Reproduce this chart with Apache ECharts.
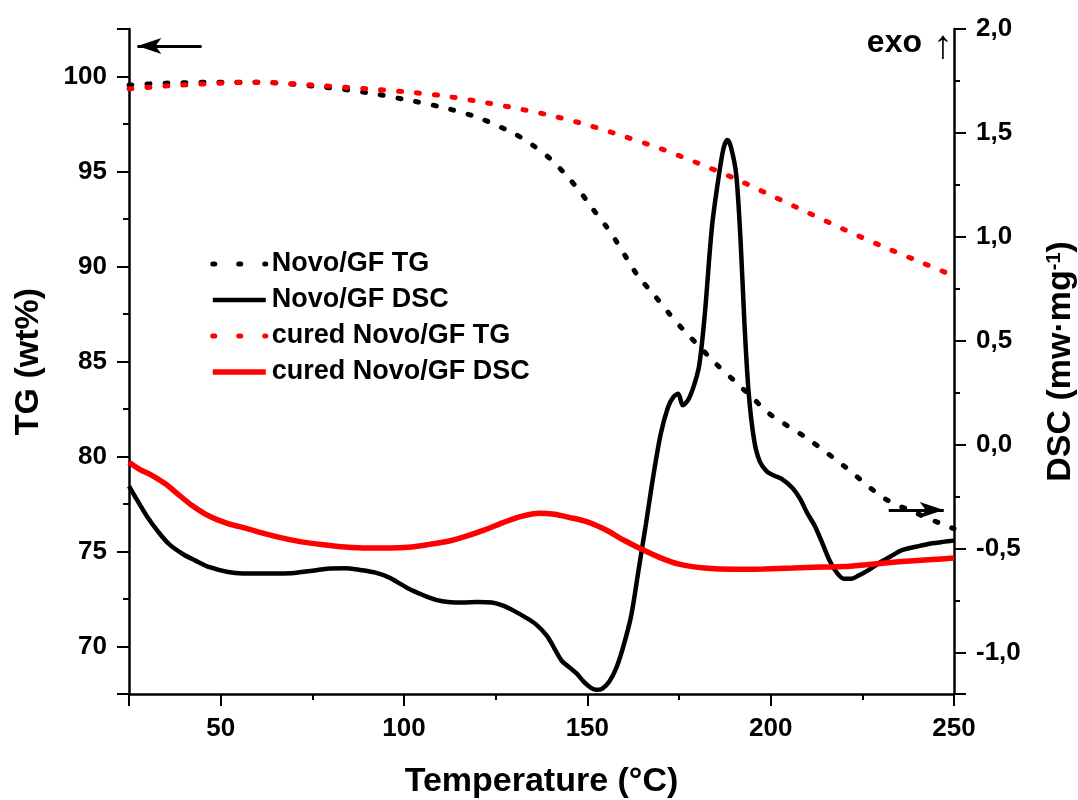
<!DOCTYPE html>
<html>
<head>
<meta charset="utf-8">
<script src="https://cdn.jsdelivr.net/npm/echarts@6/dist/echarts.min.js"></script>
<style>
    html, body { margin: 0; padding: 0; background: #fff; }
    #chart { width: 1078px; height: 800px; }
</style>
</head>
<body>
<div id="chart"></div>
<script>
// TG curves (wt%)
const tempTgNovo = [25, 35, 50, 60, 75, 90, 100, 110, 120, 130, 135, 140, 144, 148, 151, 155, 158, 161, 164, 168, 172, 176, 180, 185, 190, 195, 200, 210, 220, 231, 240, 246, 250];
const tgNovo = [99.55, 99.65, 99.7, 99.7, 99.5, 99.15, 98.8, 98.4, 97.85, 97.0, 96.4, 95.65, 94.85, 93.95, 93.15, 92.15, 91.3, 90.35, 89.45, 88.55, 87.6, 86.7, 85.9, 84.9, 84.0, 83.1, 82.2, 80.95, 79.5, 77.8, 77.0, 76.5, 76.2];

const tempTgCured = [25, 35, 50, 60, 75, 90, 100, 110, 120, 130, 140, 150, 160, 170, 180, 190, 200, 210, 220, 230, 240, 250];
const tgCured = [99.35, 99.5, 99.65, 99.7, 99.55, 99.35, 99.2, 99.0, 98.7, 98.35, 97.95, 97.45, 96.85, 96.2, 95.45, 94.65, 93.75, 92.85, 91.95, 91.1, 90.3, 89.5];

// DSC curves (mW/mg)
const tempDscNovo = [25, 28, 30, 33, 36, 40, 43, 47, 52, 56, 61, 66, 70, 75, 79, 84, 88, 92, 96, 99, 102, 106, 109, 112, 116, 120, 124, 127, 130, 133, 136, 139, 141, 143, 145, 147, 149, 151, 152.5, 154, 156, 158, 160, 162, 164, 166, 168, 170, 172, 173.5, 174.8, 176, 177.5, 179, 180.5, 182, 184, 186, 187.2, 188.2, 189.2, 190.6, 191.8, 192.8, 194, 195.5, 197, 199, 201, 203, 206, 208, 210, 212, 214, 216, 218, 220, 222, 224, 227, 230, 233, 236, 240, 244, 247, 250];
const dscNovo = [-0.2, -0.29, -0.348, -0.42, -0.48, -0.53, -0.557, -0.59, -0.613, -0.62, -0.62, -0.62, -0.618, -0.607, -0.597, -0.595, -0.603, -0.615, -0.64, -0.67, -0.7, -0.73, -0.748, -0.757, -0.76, -0.757, -0.76, -0.775, -0.8, -0.83, -0.865, -0.92, -0.98, -1.04, -1.07, -1.1, -1.14, -1.17, -1.18, -1.175, -1.14, -1.07, -0.96, -0.82, -0.6, -0.38, -0.15, 0.05, 0.18, 0.23, 0.245, 0.19, 0.215, 0.28, 0.38, 0.62, 1.05, 1.31, 1.43, 1.466, 1.43, 1.3, 0.98, 0.6, 0.25, 0.02, -0.08, -0.13, -0.15, -0.165, -0.21, -0.26, -0.33, -0.39, -0.47, -0.555, -0.615, -0.645, -0.645, -0.63, -0.6, -0.565, -0.535, -0.507, -0.49, -0.475, -0.468, -0.462];

const tempDscCured = [25, 28, 31, 35, 38, 42, 47, 52, 57, 62, 67, 72, 78, 84, 90, 96, 102, 107, 112, 117, 122, 127, 132, 137, 141, 145, 150, 155, 160, 165, 170, 175, 182, 190, 198, 206, 214, 220, 226, 232, 238, 244, 250];
const dscCured = [-0.085, -0.12, -0.146, -0.19, -0.233, -0.29, -0.345, -0.38, -0.403, -0.428, -0.45, -0.468, -0.482, -0.493, -0.498, -0.498, -0.493, -0.48, -0.465, -0.44, -0.41, -0.375, -0.345, -0.33, -0.335, -0.35, -0.372, -0.41, -0.46, -0.505, -0.545, -0.575, -0.594, -0.6, -0.598, -0.594, -0.589, -0.587, -0.578, -0.568, -0.56, -0.553, -0.546];

// annotation arrows: [x0, y0, x1, y1] in data units
const tgArrow = [44.8, 101.6, 27.3, 101.6];
const dscArrow = [232.2, -0.315, 247.2, -0.315];

const FONT = "Liberation Sans, Arial, sans-serif";

function zip(xs, ys) {
    return xs.map((x, i) => [x, ys[i]]);
}

function arrowLine(a) {
    return {
        silent: true,
        symbol: ["none", "arrow"],
        symbolSize: [12, 24],
        lineStyle: { color: "#000", width: 3, type: "solid" },
        label: { show: false },
        emphasis: { disabled: true },
        data: [[{ coord: [a[0], a[1]] }, { coord: [a[2], a[3]] }]],
    };
}

function baseAxis() {
    return {
        axisLine: { show: true, onZero: false, lineStyle: { color: "#000", width: 2.5 } },
        axisTick: { show: true, inside: false, length: 12, lineStyle: { color: "#000", width: 2 } },
        minorTick: { show: true, splitNumber: 2, length: 6, lineStyle: { color: "#000", width: 2 } },
        splitLine: { show: false },
        minorSplitLine: { show: false },
        axisLabel: { color: "#000", fontFamily: FONT, fontWeight: "bold", fontSize: 26 },
        nameTextStyle: { color: "#000", fontFamily: FONT, fontWeight: "bold", fontSize: 34 },
        nameLocation: "middle",
        nameMoveOverlap: false,
    };
}

const chart = echarts.init(document.getElementById("chart"), null, { renderer: "canvas" });

const dotted = { type: [3, 15], width: 5, cap: "round" };
const legendDots = { type: [2, 24], width: 5, cap: "round" };
const noMarker = { opacity: 0 };

chart.setOption({
    animation: false,
    backgroundColor: "#fff",
    grid: { left: 129, right: 124, top: 29, bottom: 106, containLabel: false, outerBoundsMode: "none" },
    legend: {
        orient: "vertical",
        left: 210,
        top: 249,
        padding: 0,
        itemWidth: 53,
        itemHeight: 14,
        itemGap: 6,
        selectedMode: false,
        itemStyle: noMarker,
        textStyle: { color: "#000", fontFamily: FONT, fontWeight: "bold", fontSize: 27, lineHeight: 30, padding: [0, 0, 0, 1] },
        data: [
            { name: "Novo/GF TG", lineStyle: legendDots, itemStyle: noMarker },
            { name: "Novo/GF DSC", lineStyle: { type: "solid", width: 4.5, color: "#000" }, itemStyle: noMarker },
            { name: "cured Novo/GF TG", lineStyle: legendDots, itemStyle: noMarker },
            { name: "cured Novo/GF DSC", lineStyle: { type: "solid", width: 5.5, color: "#ff0000" }, itemStyle: noMarker },
        ],
    },
    xAxis: Object.assign(baseAxis(), {
        type: "value",
        min: 25,
        max: 250,
        splitNumber: 5,
        name: "Temperature (°C)",
        nameGap: 71,
        axisLabel: Object.assign(baseAxis().axisLabel, {
            margin: 22,
            showMinLabel: false,
            formatter: (v) => (v % 50 === 0 ? String(v) : ""),
        }),
    }),
    yAxis: [
        Object.assign(baseAxis(), {
            type: "value",
            position: "left",
            min: 67.5,
            max: 102.5,
            splitNumber: 7,
            name: "TG (wt%)",
            nameGap: 83,
            axisLabel: Object.assign(baseAxis().axisLabel, {
                margin: 22,
                formatter: (v) => (v % 5 === 0 ? String(v) : ""),
            }),
        }),
        Object.assign(baseAxis(), {
            type: "value",
            position: "right",
            min: -1.2,
            max: 2.0,
            splitNumber: 7,
            name: "DSC (mw·mg{sup|-1})",
            nameGap: 90,
            nameTextStyle: Object.assign(baseAxis().nameTextStyle, {
                rich: {
                    sup: { fontFamily: FONT, fontWeight: "bold", fontSize: 20, color: "#000", verticalAlign: "top", padding: [0, 0, 14, 0] },
                },
            }),
            axisLabel: Object.assign(baseAxis().axisLabel, {
                margin: 22,
                formatter: (v) => {
                    const r = Math.round(v * 2) / 2;
                    return Math.abs(r - v) < 1e-6 ? v.toFixed(1).replace(".", ",") : "";
                },
            }),
        }),
    ],
    graphic: [
        {
            type: "text",
            x: 922,
            y: 43,
            style: { text: "exo", align: "right", verticalAlign: "middle", font: "bold 32px " + FONT, fill: "#000" },
        },
        {
            type: "text",
            x: 943,
            y: 47,
            style: { text: "↑", align: "center", verticalAlign: "middle", font: "normal 40px " + FONT, fill: "#000" },
        },
    ],
    series: [
        {
            name: "Novo/GF TG",
            type: "line",
            yAxisIndex: 0,
            data: zip(tempTgNovo, tgNovo),
            showSymbol: false,
            symbol: "none",
            smooth: 0.3,
            color: "#000",
            lineStyle: Object.assign({ color: "#000" }, dotted),
            markLine: arrowLine(tgArrow),
            z: 3,
        },
        {
            name: "Novo/GF DSC",
            type: "line",
            yAxisIndex: 1,
            data: zip(tempDscNovo, dscNovo),
            showSymbol: false,
            symbol: "none",
            smooth: 0.3,
            color: "#000",
            lineStyle: { color: "#000", width: 4.5 },
            markLine: arrowLine(dscArrow),
            z: 2,
        },
        {
            name: "cured Novo/GF TG",
            type: "line",
            yAxisIndex: 0,
            data: zip(tempTgCured, tgCured),
            showSymbol: false,
            symbol: "none",
            smooth: 0.3,
            color: "#ff0000",
            lineStyle: Object.assign({ color: "#ff0000" }, dotted),
            z: 4,
        },
        {
            name: "cured Novo/GF DSC",
            type: "line",
            yAxisIndex: 1,
            data: zip(tempDscCured, dscCured),
            showSymbol: false,
            symbol: "none",
            smooth: 0.3,
            color: "#ff0000",
            lineStyle: { color: "#ff0000", width: 5.5 },
            z: 2,
        },
    ],
});
</script>
</body>
</html>
